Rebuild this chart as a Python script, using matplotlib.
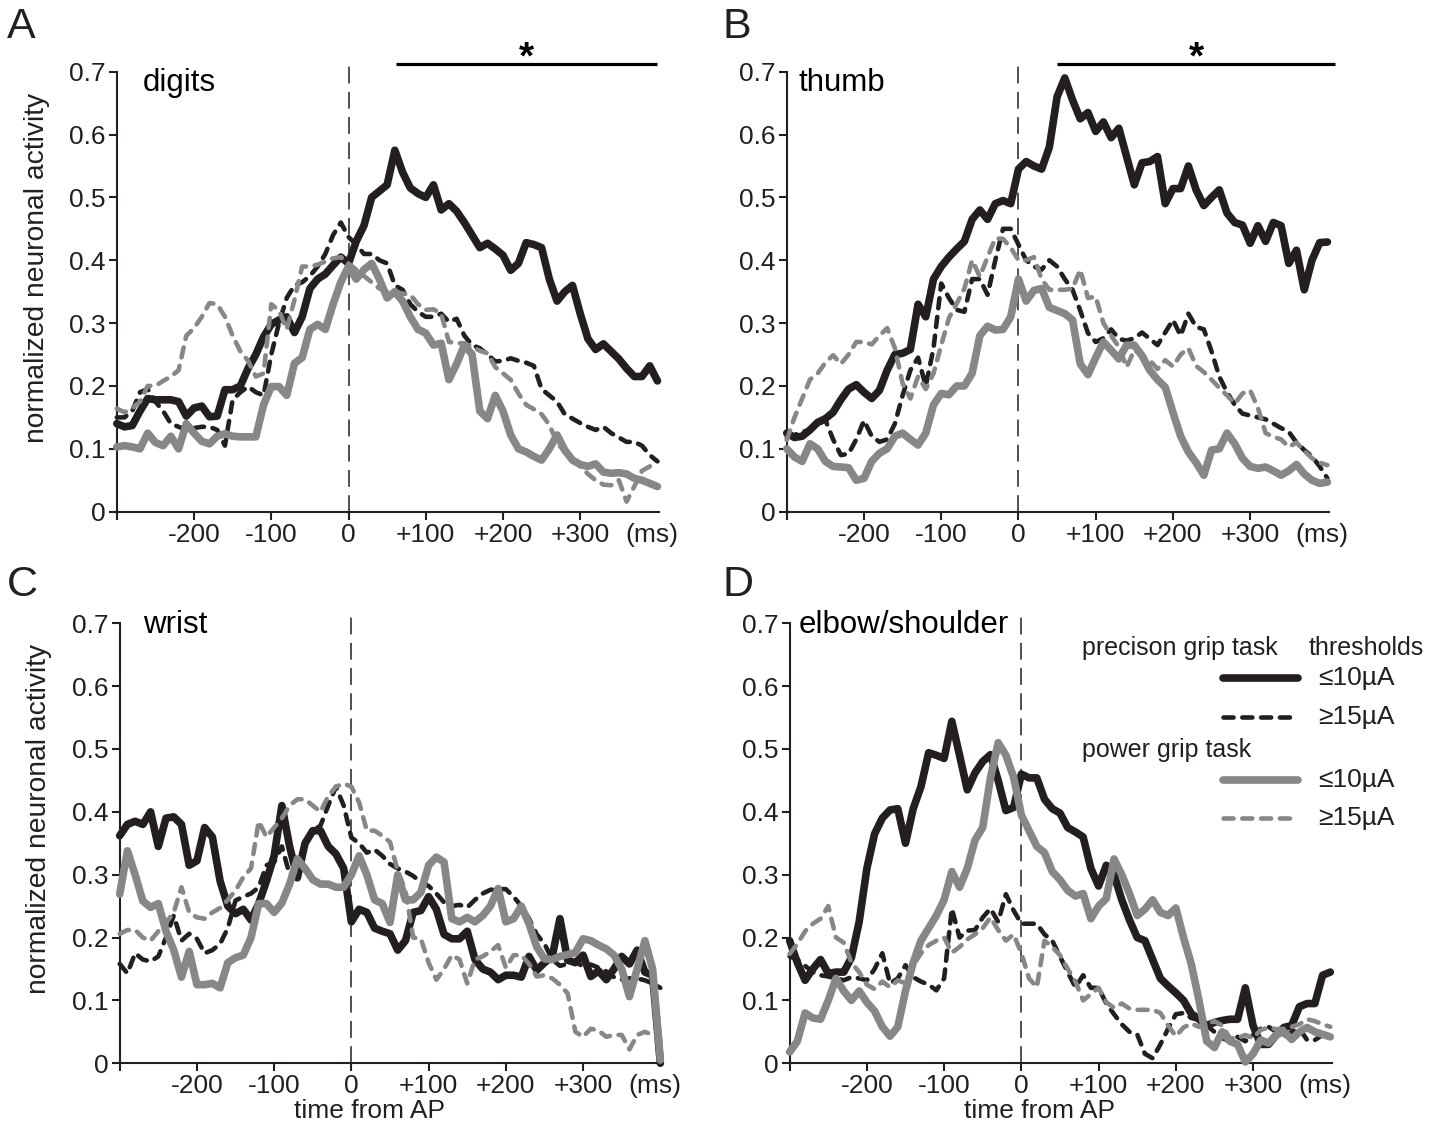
import numpy as np
import matplotlib
matplotlib.use('Agg')
import matplotlib.pyplot as plt

plt.rcParams['font.family'] = ['Liberation Sans', 'DejaVu Sans']

# time bins (ms from AP)
time_ms = np.arange(-300, 401, 10)

# A: digits
digits_prec_low = [0.14, 0.135, 0.137, 0.16, 0.18, 0.178, 0.178, 0.178, 0.175, 0.152,
                   0.165, 0.168, 0.151, 0.152, 0.194, 0.194, 0.2, 0.228, 0.25, 0.278,
                   0.298, 0.305, 0.31, 0.285, 0.31, 0.355, 0.37, 0.378, 0.392, 0.405,
                   0.395, 0.43, 0.455, 0.5, 0.51, 0.52, 0.575, 0.54, 0.515, 0.506,
                   0.5, 0.52, 0.48, 0.49, 0.478, 0.46, 0.44, 0.42, 0.427, 0.418,
                   0.408, 0.384, 0.395, 0.428, 0.425, 0.42, 0.37, 0.335, 0.35, 0.36,
                   0.315, 0.275, 0.258, 0.267, 0.255, 0.243, 0.228, 0.215, 0.215, 0.232,
                   0.208]
digits_prec_high = [0.15, 0.15, 0.16, 0.19, 0.195, 0.175, 0.16, 0.14, 0.135, 0.13,
                    0.133, 0.135, 0.135, 0.13, 0.105, 0.178, 0.19, 0.199, 0.19, 0.185,
                    0.25, 0.3, 0.34, 0.36, 0.365, 0.375, 0.39, 0.41, 0.44, 0.46,
                    0.437, 0.425, 0.41, 0.41, 0.4, 0.395, 0.36, 0.353, 0.33, 0.318,
                    0.31, 0.31, 0.315, 0.302, 0.307, 0.28, 0.265, 0.26, 0.25, 0.239,
                    0.24, 0.244, 0.24, 0.237, 0.232, 0.195, 0.185, 0.175, 0.155, 0.148,
                    0.141, 0.135, 0.13, 0.135, 0.125, 0.118, 0.111, 0.111, 0.105, 0.09,
                    0.08]
digits_power_low = [0.103, 0.105, 0.103, 0.1, 0.125, 0.11, 0.105, 0.12, 0.1, 0.14,
                    0.125, 0.112, 0.108, 0.12, 0.124, 0.12, 0.119, 0.119, 0.119, 0.17,
                    0.199, 0.199, 0.185, 0.236, 0.245, 0.29, 0.298, 0.29, 0.33, 0.365,
                    0.39, 0.37, 0.385, 0.395, 0.37, 0.34, 0.35, 0.335, 0.31, 0.29,
                    0.284, 0.265, 0.268, 0.21, 0.235, 0.265, 0.25, 0.16, 0.148, 0.185,
                    0.16, 0.122, 0.1, 0.095, 0.088, 0.082, 0.1, 0.122, 0.098, 0.082,
                    0.075, 0.072, 0.076, 0.063, 0.061, 0.062, 0.06, 0.053, 0.05, 0.045,
                    0.04]
digits_power_high = [0.164, 0.158, 0.165, 0.175, 0.2, 0.2, 0.208, 0.215, 0.225, 0.28,
                     0.292, 0.31, 0.332, 0.33, 0.31, 0.28, 0.255, 0.24, 0.215, 0.22,
                     0.33, 0.32, 0.29, 0.337, 0.39, 0.39, 0.393, 0.398, 0.403, 0.405,
                     0.395, 0.385, 0.375, 0.365, 0.355, 0.35, 0.35, 0.347, 0.345, 0.33,
                     0.321, 0.322, 0.315, 0.27, 0.268, 0.268, 0.262, 0.256, 0.252, 0.23,
                     0.22, 0.21, 0.188, 0.17, 0.163, 0.155, 0.138, 0.11, 0.095, 0.085,
                     0.072, 0.06, 0.05, 0.043, 0.042, 0.05, 0.016, 0.04, 0.065, 0.072,
                     0.074]

# B: thumb
thumb_prec_low = [0.125, 0.118, 0.12, 0.13, 0.142, 0.148, 0.158, 0.178, 0.195, 0.202,
                  0.19, 0.18, 0.193, 0.225, 0.25, 0.252, 0.258, 0.33, 0.31, 0.37,
                  0.39, 0.405, 0.418, 0.43, 0.465, 0.48, 0.465, 0.49, 0.495, 0.49,
                  0.545, 0.557, 0.55, 0.545, 0.58, 0.66, 0.69, 0.655, 0.625, 0.635,
                  0.605, 0.62, 0.595, 0.61, 0.565, 0.52, 0.555, 0.557, 0.565, 0.49,
                  0.514, 0.514, 0.55, 0.512, 0.487, 0.5, 0.512, 0.475, 0.46, 0.456,
                  0.427, 0.455, 0.43, 0.46, 0.455, 0.395, 0.416, 0.353, 0.4, 0.428,
                  0.429]
thumb_prec_high = [0.118, 0.122, 0.127, 0.13, 0.138, 0.146, 0.115, 0.09, 0.092, 0.115,
                   0.145, 0.12, 0.111, 0.115, 0.14, 0.185, 0.225, 0.245, 0.2, 0.26,
                   0.363, 0.34, 0.321, 0.318, 0.37, 0.37, 0.345, 0.4, 0.45, 0.45,
                   0.425, 0.4, 0.39, 0.385, 0.4, 0.39, 0.37, 0.353, 0.32, 0.284,
                   0.27, 0.276, 0.29, 0.275, 0.272, 0.276, 0.285, 0.275, 0.265, 0.285,
                   0.305, 0.28, 0.315, 0.294, 0.29, 0.255, 0.215, 0.19, 0.17, 0.156,
                   0.153, 0.15, 0.147, 0.14, 0.133, 0.127, 0.11, 0.098, 0.088, 0.072,
                   0.053]
thumb_power_low = [0.1, 0.087, 0.08, 0.108, 0.1, 0.08, 0.072, 0.071, 0.07, 0.05,
                   0.053, 0.08, 0.093, 0.1, 0.12, 0.125, 0.115, 0.106, 0.125, 0.17,
                   0.188, 0.186, 0.2, 0.2, 0.22, 0.28, 0.295, 0.289, 0.29, 0.31,
                   0.37, 0.335, 0.352, 0.355, 0.325, 0.32, 0.315, 0.305, 0.235, 0.218,
                   0.245, 0.27, 0.257, 0.243, 0.265, 0.265, 0.248, 0.225, 0.21, 0.198,
                   0.158, 0.12, 0.095, 0.078, 0.058, 0.098, 0.1, 0.125, 0.108, 0.085,
                   0.072, 0.069, 0.071, 0.065, 0.058, 0.065, 0.075, 0.06, 0.05, 0.045,
                   0.047]
thumb_power_high = [0.114, 0.15, 0.18, 0.21, 0.22, 0.237, 0.249, 0.235, 0.25, 0.27,
                    0.27, 0.266, 0.28, 0.292, 0.26, 0.204, 0.18, 0.215, 0.195, 0.22,
                    0.265, 0.308, 0.331, 0.355, 0.4, 0.374, 0.405, 0.435, 0.434, 0.42,
                    0.4, 0.4, 0.405, 0.37, 0.353, 0.353, 0.353, 0.355, 0.385, 0.34,
                    0.342, 0.3, 0.28, 0.262, 0.23, 0.257, 0.248, 0.241, 0.227, 0.241,
                    0.231, 0.25, 0.26, 0.232, 0.222, 0.21, 0.197, 0.185, 0.172, 0.188,
                    0.193, 0.165, 0.125, 0.119, 0.115, 0.103, 0.11, 0.097, 0.085, 0.078,
                    0.074]

# C: wrist
wrist_prec_low = [0.362, 0.38, 0.385, 0.38, 0.4, 0.345, 0.39, 0.392, 0.38, 0.315,
                  0.322, 0.375, 0.36, 0.29, 0.25, 0.238, 0.245, 0.228, 0.254, 0.29,
                  0.33, 0.41, 0.345, 0.295, 0.35, 0.37, 0.37, 0.345, 0.333, 0.31,
                  0.225, 0.245, 0.24, 0.215, 0.21, 0.206, 0.18, 0.195, 0.24, 0.243,
                  0.265, 0.245, 0.205, 0.198, 0.198, 0.21, 0.165, 0.15, 0.145, 0.133,
                  0.14, 0.14, 0.137, 0.17, 0.148, 0.16, 0.17, 0.23, 0.164, 0.16,
                  0.172, 0.138, 0.147, 0.133, 0.15, 0.17, 0.158, 0.18, 0.145, 0.14,
                  0.0]
wrist_prec_high = [0.158, 0.143, 0.175, 0.165, 0.162, 0.17, 0.2, 0.235, 0.195, 0.206,
                   0.198, 0.175, 0.18, 0.19, 0.215, 0.259, 0.265, 0.27, 0.28, 0.315,
                   0.32, 0.345, 0.3, 0.305, 0.35, 0.37, 0.378, 0.41, 0.44, 0.41,
                   0.359, 0.35, 0.335, 0.34, 0.33, 0.317, 0.31, 0.305, 0.298, 0.288,
                   0.282, 0.27, 0.256, 0.25, 0.252, 0.248, 0.26, 0.27, 0.276, 0.277,
                   0.277, 0.265, 0.25, 0.23, 0.205, 0.19, 0.165, 0.155, 0.158, 0.163,
                   0.153, 0.157, 0.152, 0.146, 0.137, 0.133, 0.135, 0.135, 0.132, 0.127,
                   0.12]
wrist_power_low = [0.269, 0.338, 0.3, 0.258, 0.248, 0.254, 0.21, 0.18, 0.137, 0.178,
                   0.125, 0.125, 0.127, 0.12, 0.16, 0.168, 0.172, 0.2, 0.254, 0.254,
                   0.24, 0.255, 0.285, 0.325, 0.31, 0.292, 0.285, 0.285, 0.28, 0.28,
                   0.3, 0.33, 0.3, 0.26, 0.254, 0.224, 0.3, 0.26, 0.26, 0.272,
                   0.315, 0.328, 0.32, 0.23, 0.225, 0.232, 0.225, 0.235, 0.25, 0.278,
                   0.225, 0.23, 0.25, 0.222, 0.185, 0.166, 0.165, 0.17, 0.173, 0.176,
                   0.198, 0.195, 0.188, 0.182, 0.172, 0.15, 0.106, 0.15, 0.195, 0.15,
                   0.005]
wrist_power_high = [0.206, 0.212, 0.212, 0.2, 0.195, 0.21, 0.224, 0.24, 0.28, 0.24,
                    0.232, 0.23, 0.24, 0.247, 0.26, 0.275, 0.296, 0.31, 0.385, 0.36,
                    0.375, 0.39, 0.41, 0.42, 0.42, 0.41, 0.4, 0.425, 0.44, 0.445,
                    0.44, 0.415, 0.37, 0.37, 0.362, 0.352, 0.306, 0.275, 0.2, 0.198,
                    0.16, 0.133, 0.15, 0.172, 0.165, 0.127, 0.165, 0.17, 0.178, 0.188,
                    0.152, 0.172, 0.172, 0.158, 0.138, 0.14, 0.135, 0.125, 0.111, 0.05,
                    0.042, 0.055, 0.052, 0.042, 0.045, 0.045, 0.022, 0.045, 0.05, 0.045,
                    0.04]

# D: elbow/shoulder
elbow_prec_low = [0.195, 0.16, 0.132, 0.15, 0.165, 0.143, 0.145, 0.145, 0.168, 0.225,
                  0.31, 0.365, 0.39, 0.403, 0.405, 0.35, 0.405, 0.44, 0.494, 0.49,
                  0.485, 0.544, 0.49, 0.435, 0.462, 0.48, 0.491, 0.45, 0.402, 0.407,
                  0.46, 0.454, 0.454, 0.42, 0.405, 0.398, 0.375, 0.368, 0.36, 0.31,
                  0.282, 0.315, 0.3, 0.26, 0.228, 0.2, 0.195, 0.165, 0.135, 0.123,
                  0.112, 0.1, 0.079, 0.07, 0.06, 0.065, 0.068, 0.07, 0.07, 0.12,
                  0.06, 0.03, 0.03, 0.045, 0.057, 0.06, 0.09, 0.095, 0.095, 0.14,
                  0.145]
elbow_prec_high = [0.17, 0.165, 0.155, 0.145, 0.14, 0.138, 0.135, 0.132, 0.137, 0.135,
                   0.132, 0.15, 0.175, 0.127, 0.135, 0.156, 0.137, 0.13, 0.125, 0.116,
                   0.135, 0.246, 0.2, 0.211, 0.212, 0.232, 0.246, 0.225, 0.269, 0.243,
                   0.222, 0.222, 0.222, 0.205, 0.195, 0.17, 0.145, 0.121, 0.14, 0.12,
                   0.12, 0.095, 0.078, 0.062, 0.05, 0.046, 0.015, 0.008, 0.03, 0.055,
                   0.078, 0.08, 0.072, 0.069, 0.06, 0.05, 0.04, 0.035, 0.042, 0.035,
                   0.045, 0.055, 0.058, 0.05, 0.043, 0.05, 0.055, 0.037, 0.037, 0.045,
                   0.05]
elbow_power_low = [0.018, 0.035, 0.08, 0.072, 0.07, 0.1, 0.135, 0.115, 0.1, 0.115,
                   0.097, 0.083, 0.058, 0.043, 0.058, 0.115, 0.16, 0.195, 0.215, 0.235,
                   0.26, 0.305, 0.28, 0.31, 0.355, 0.375, 0.454, 0.51, 0.49, 0.455,
                   0.395, 0.37, 0.345, 0.335, 0.305, 0.292, 0.275, 0.266, 0.27, 0.23,
                   0.25, 0.262, 0.325, 0.3, 0.27, 0.235, 0.245, 0.26, 0.24, 0.235,
                   0.247, 0.2, 0.158, 0.1, 0.035, 0.025, 0.05, 0.035, 0.03, 0.002,
                   0.015, 0.037, 0.032, 0.045, 0.05, 0.038, 0.05, 0.057, 0.05, 0.046,
                   0.042]
elbow_power_high = [0.174, 0.19, 0.21, 0.222, 0.23, 0.25, 0.2, 0.192, 0.16, 0.145,
                    0.125, 0.118, 0.13, 0.121, 0.132, 0.127, 0.155, 0.175, 0.188, 0.195,
                    0.2, 0.176, 0.185, 0.197, 0.205, 0.215, 0.232, 0.212, 0.195, 0.205,
                    0.175, 0.135, 0.121, 0.195, 0.185, 0.172, 0.15, 0.13, 0.1, 0.11,
                    0.12, 0.097, 0.088, 0.095, 0.087, 0.085, 0.085, 0.085, 0.08, 0.06,
                    0.043, 0.057, 0.063, 0.058, 0.062, 0.067, 0.06, 0.04, 0.04, 0.045,
                    0.04, 0.053, 0.057, 0.054, 0.055, 0.058, 0.062, 0.07, 0.067, 0.062,
                    0.058]

panel_letters = ['A', 'B', 'C', 'D']
panel_names = ['digits', 'thumb', 'wrist', 'elbow/shoulder']
panel_series = [
    [digits_prec_low, digits_prec_high, digits_power_low, digits_power_high],
    [thumb_prec_low, thumb_prec_high, thumb_power_low, thumb_power_high],
    [wrist_prec_low, wrist_prec_high, wrist_power_low, wrist_power_high],
    [elbow_prec_low, elbow_prec_high, elbow_power_low, elbow_power_high],
]
# significance bars (ms), None where there is none
sig_spans = [(61, 400), (50, 410), None, None]
sig_level = 0.712

xtick_pos = [-300, -200, -100, 0, 100, 200, 300]
xtick_labels = ['', '-200', '-100', '0', '+100', '+200', '+300']
ytick_pos = [0, 0.1, 0.2, 0.3, 0.4, 0.5, 0.6, 0.7]
ytick_labels = ['0', '0.1', '0.2', '0.3', '0.4', '0.5', '0.6', '0.7']

black = '#231f20'
grey = '#878787'
styles = [
    dict(color=black, lw=5.5),
    dict(color=black, lw=3.3, dashes=(2.2, 1.9)),
    dict(color=grey, lw=5.5),
    dict(color=grey, lw=3.3, dashes=(2.2, 1.9)),
]

fig = plt.figure(figsize=(14.42, 11.28), dpi=100)
rects = [[0.081, 0.5464, 0.376, 0.4012],
         [0.5456, 0.5464, 0.376, 0.4012],
         [0.083, 0.0574, 0.376, 0.4012],
         [0.5476, 0.0574, 0.376, 0.4012]]
letter_pos = [(0.005, 0.994), (0.501, 0.994), (0.005, 0.499), (0.501, 0.499)]
name_y = [0.67, 0.67, 0.685, 0.685]
name_x = [0.047, 0.022, 0.043, 0.017]

for i in range(4):
    ax = fig.add_axes(rects[i])
    ax.vlines(0, 0, 0.72, colors=black, lw=1.1, linestyles=(0, (11, 5.5)), zorder=1)
    for y, st in zip(panel_series[i], styles):
        ax.plot(time_ms, y, solid_capstyle='round', solid_joinstyle='round',
                dash_capstyle='round', dash_joinstyle='round',
                clip_on=False, zorder=3, **st)
    ax.set_xlim(-300, 402)
    ax.set_ylim(0, 0.72)
    for s in ['top', 'right']:
        ax.spines[s].set_visible(False)
    for s in ['left', 'bottom']:
        ax.spines[s].set_linewidth(1.5)
        ax.spines[s].set_color(black)
    ax.spines['left'].set_bounds(0, 0.7)
    ax.set_xticks(xtick_pos)
    ax.set_xticklabels(xtick_labels)
    ax.set_yticks(ytick_pos)
    ax.set_yticklabels(ytick_labels)
    ax.tick_params(direction='out', length=6, width=1.5, labelsize=19, pad=2,
                   color=black, labelcolor=black)
    ax.annotate('(ms)', xy=(0.987, 0), xycoords='axes fraction',
                xytext=(0, -8), textcoords='offset points',
                ha='center', va='top', fontsize=19, color=black)
    ax.text(name_x[i], name_y[i], panel_names[i], transform=ax.get_yaxis_transform(),
            fontsize=22.5, va='baseline', ha='left', color='black')
    fig.text(letter_pos[i][0], letter_pos[i][1], panel_letters[i], fontsize=31,
             va='top', ha='left', color=black)
    if i % 2 == 0:
        ax.set_ylabel('normalized neuronal activity', fontsize=20.3, color=black)
        ax.yaxis.set_label_coords(-0.124, 0.539)
    if i >= 2:
        ax.set_xlabel('time from AP', fontsize=19, color=black)
        ax.xaxis.set_label_coords(0.46, -0.08)
    if sig_spans[i] is not None:
        ax.plot(sig_spans[i], [sig_level, sig_level], color='black', lw=2.3,
                clip_on=False, solid_capstyle='butt')
        ax.annotate('*', xy=(np.mean(sig_spans[i]), sig_level), xytext=(0, -3),
                    textcoords='offset points', ha='center', va='baseline',
                    fontsize=28, fontweight='bold', annotation_clip=False)
    if i == 3:
        tr = ax.transAxes
        ax.text(0.539, 0.902, 'precison grip task', transform=tr, fontsize=18,
                va='baseline', color=black)
        ax.text(0.957, 0.902, 'thresholds', transform=tr, fontsize=18,
                va='baseline', color=black)
        ax.text(0.539, 0.677, 'power grip task', transform=tr, fontsize=18,
                va='baseline', color=black)
        key_y = [0.851, 0.766, 0.626, 0.541]
        key_txt = ['\u226410\u00b5A', '\u226515\u00b5A', '\u226410\u00b5A', '\u226515\u00b5A']
        for ky, kt, st in zip(key_y, key_txt, styles):
            ax.plot([0.80, 0.938], [ky, ky], transform=tr, clip_on=False,
                    solid_capstyle='round', dash_capstyle='round', **st)
            ax.text(0.975, ky, kt, transform=tr, fontsize=19, va='center',
                    ha='left', color=black)

fig.savefig('out.png', dpi=100)
